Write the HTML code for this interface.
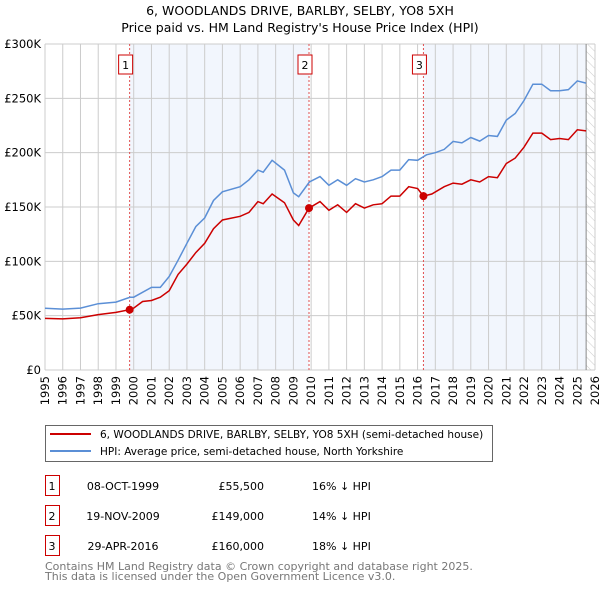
<!DOCTYPE html>
<html><head><meta charset="utf-8">
<style>
body{margin:0;background:#fff;}
svg{display:block;font-family:"DejaVu Sans","Liberation Sans",sans-serif;}
</style></head>
<body>
<svg id="chart" width="600" height="590" viewBox="0 0 600 590">
<text x="300" y="15" text-anchor="middle" font-size="12.5">6, WOODLANDS DRIVE, BARLBY, SELBY, YO8 5XH</text>
<text x="300" y="32" text-anchor="middle" font-size="12.5">Price paid vs. HM Land Registry's House Price Index (HPI)</text>
<g id="plot"></g>
<g>
<rect x="45.5" y="425.5" width="447" height="36" fill="#fff" stroke="#666"/>
<line x1="50" y1="434" x2="91" y2="434" stroke="#cc0000" stroke-width="2"/>
<text x="100" y="438" font-size="10.5">6, WOODLANDS DRIVE, BARLBY, SELBY, YO8 5XH (semi-detached house)</text>
<line x1="50" y1="451" x2="91" y2="451" stroke="#5b8fd6" stroke-width="2"/>
<text x="100" y="455" font-size="10.5">HPI: Average price, semi-detached house, North Yorkshire</text>
</g>
<g id="table" font-size="11"></g>
<text x="45" y="570" font-size="11" fill="#777">Contains HM Land Registry data © Crown copyright and database right 2025.</text>
<text x="45" y="580" font-size="11" fill="#777">This data is licensed under the Open Government Licence v3.0.</text>
</svg>
<script>
const hpiYears=[1995,1996,1997,1998,1999,1999.8,2000,2001,2001.5,2002,2002.5,2003,2003.5,2004,2004.5,2005,2006,2006.5,2007,2007.3,2007.8,2008.5,2009,2009.3,2009.9,2010.5,2011,2011.5,2012,2012.5,2013,2013.5,2014,2014.5,2015,2015.5,2016,2016.5,2017,2017.5,2018,2018.5,2019,2019.5,2020,2020.5,2021,2021.5,2022,2022.5,2023,2023.5,2024,2024.5,2025,2025.5];
const hpiValues=[56.8,56,57,61,62.5,67,67,76,76,86,101,116.6,132,140,156,164,168.7,175,184,182,193,184,163,159.5,173,178,170,175,170,176,173,175,178,184,184,193.6,193,198,200,203,210.4,209,214,210.6,215.8,215,230,236,248,263,263,257,257,258,266,264];
const redYears=[1995,1996,1997,1998,1999,1999.77,2000,2000.5,2001,2001.5,2002,2002.5,2003,2003.5,2004,2004.5,2005,2006,2006.5,2007,2007.3,2007.8,2008.5,2009,2009.3,2009.88,2010.5,2011,2011.5,2012,2012.5,2013,2013.5,2014,2014.5,2015,2015.5,2016,2016.33,2016.8,2017.5,2018,2018.5,2019,2019.5,2020,2020.5,2021,2021.5,2022,2022.5,2023,2023.5,2024,2024.5,2025,2025.5];
const redValues=[47.5,47,48,51,53,55.5,57,63,64,67,73,88,97.5,108,116.6,130,138,141.4,145,155,153,162,154,138,133,149,155,147,152,145,153,149,152,153,160,160,168.7,167,160,162,168.7,172,171,175,173,178,177,190,195,205,218,218,212,213,212,221,220];
const saleLabels=["1","2","3"];
const saleDates=[1999.77,2009.88,2016.33];
const salePrices=[55.5,149,160];
const saleDateText=["08-OCT-1999","19-NOV-2009","29-APR-2016"];
const salePriceText=["£55,500","£149,000","£160,000"];
const saleDiffText=["16% ↓ HPI","14% ↓ HPI","18% ↓ HPI"];
const yTicks=[0,50,100,150,200,250,300];
const yTickLabels=["£0","£50K","£100K","£150K","£200K","£250K","£300K"];
const xStart=1995,xEnd=2026,dataEnd=2025.5;

const L=45,R=595,T=44,B=370,NS="http://www.w3.org/2000/svg";
const X=v=>L+(v-xStart)/(xEnd-xStart)*(R-L);
const Y=v=>B-v/300*(B-T);
const plot=document.getElementById('plot');
function mk(tag,attrs,parent){const e=document.createElementNS(NS,tag);for(const k in attrs)e.setAttribute(k,attrs[k]);(parent||plot).appendChild(e);return e;}
let s=mk('rect',{x:X(saleDates[0]),y:T,width:X(saleDates[1])-X(saleDates[0]),height:B-T,fill:'#f2f6fd'});


s=mk('rect',{x:X(saleDates[2]),y:T,width:X(dataEnd)-X(saleDates[2]),height:B-T,fill:'#f2f6fd'});


const defs=mk('defs',{});
const pat=mk('pattern',{id:'hatch',width:6,height:6,patternUnits:'userSpaceOnUse',patternTransform:'rotate(-45)'},defs);
mk('line',{x1:0,y1:0,x2:0,y2:6,stroke:'#ccc','stroke-width':1},pat);
s=mk('rect',{x:X(dataEnd),y:T,width:R-X(dataEnd),height:B-T,fill:'url(#hatch)'});


for(let y=xStart;y<=xEnd;y++){
  const g=mk('line',{x1:X(y),x2:X(y),y1:T,y2:B,stroke:'#ccc','stroke-width':1});
  
  
  const t=mk('text',{x:0,y:0,transform:`translate(${X(y)+4},${B+6}) rotate(-90)`,'text-anchor':'end','font-size':'11.5'});
  t.textContent=y;
  
  
}
yTicks.forEach((v,i)=>{
  const g=mk('line',{x1:L,x2:R,y1:Y(v),y2:Y(v),stroke:'#ccc','stroke-width':1});
  
  
  const t=mk('text',{x:L-4,y:Y(v)+4,'text-anchor':'end','font-size':'11.5'});
  t.textContent=yTickLabels[i];
  
  
});
let ln=mk('line',{x1:X(dataEnd),x2:X(dataEnd),y1:T,y2:B,stroke:'#888','stroke-width':1});


saleDates.forEach((d,i)=>{
  const l=mk('line',{x1:X(d),x2:X(d),y1:T,y2:B,stroke:'#e05050','stroke-width':1,'stroke-dasharray':'2,2'});
  
  
  const bx=mk('rect',{x:X(d)-11,y:55,width:14,height:19,fill:'#fff',stroke:'#cc0000'});
  
  
  const t=mk('text',{x:X(d)-4,y:69,'text-anchor':'middle','font-size':'11'});
  t.textContent=saleLabels[i];
  
  
});
const path=(xs,vs)=>xs.map((x,i)=>(i?'L':'M')+X(x).toFixed(1)+','+Y(vs[i]).toFixed(1)).join('');
let p=mk('path',{d:path(hpiYears,hpiValues),fill:'none',stroke:'#5b8fd6','stroke-width':1.5});


p=mk('path',{d:path(redYears,redValues),fill:'none',stroke:'#cc0000','stroke-width':1.5});


saleDates.forEach((d,i)=>{
  const c=mk('circle',{cx:X(d),cy:Y(salePrices[i]),r:4,fill:'#cc0000'});
  
  
});
const tb=document.getElementById('table');
saleLabels.forEach((lab,i)=>{
  const y0=475+i*30;
  const r=mk('rect',{x:45.5,y:y0+0.5,width:14,height:20,fill:'#fff',stroke:'#cc0000'},tb);
  
  
  const vals=[[52,lab,'middle'],[123,saleDateText[i],'middle'],[264,salePriceText[i],'end'],[312,saleDiffText[i],'start']];
  vals.forEach(v=>{
    const t=mk('text',{x:v[0],y:y0+15,'text-anchor':v[2]},tb);
    t.textContent=v[1];
    
    
  });
});
</script>
</body></html>
